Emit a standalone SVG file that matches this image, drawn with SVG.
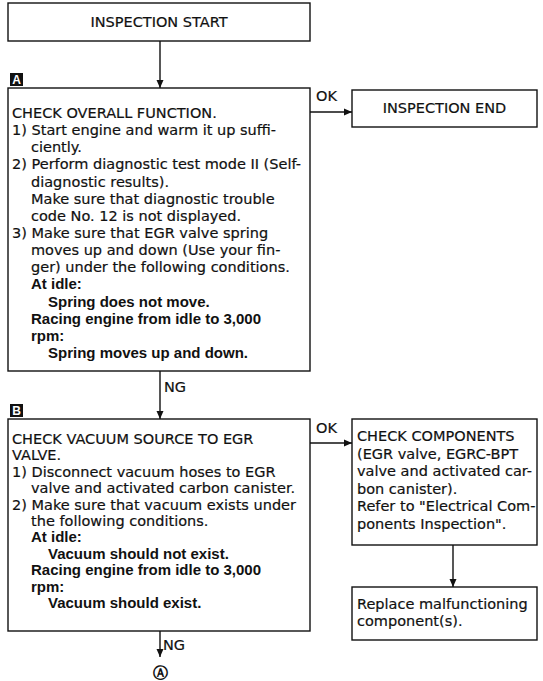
<svg xmlns="http://www.w3.org/2000/svg" width="543" height="681" viewBox="0 0 543 681">
<defs>
<marker id="ah" markerWidth="8" markerHeight="8" refX="8" refY="4" orient="auto" markerUnits="userSpaceOnUse">
<path d="M0,0.5 L8,4 L0,7.5 Z" fill="#111"/>
</marker>
<style>
.box{fill:#fff;stroke:#111;stroke-width:1.4}
.t{font-family:"DejaVu Sans","Liberation Sans",sans-serif;font-size:14.5px;fill:#111;stroke:#111;stroke-width:0.2}
.b{font-family:"Liberation Sans",Arial,sans-serif;font-size:15px;font-weight:bold;fill:#111}
.c{text-anchor:middle}
.ln{stroke:#111;stroke-width:1.4;fill:none}
.tag{fill:#111}
.tagt{font-family:"Liberation Sans",Arial,sans-serif;font-size:12px;font-weight:bold;fill:#fff;text-anchor:middle}
</style>
</defs>
<rect width="543" height="681" fill="#fff"/>
<g id="connectors">
<line class="ln" x1="160" y1="41" x2="160" y2="88" marker-end="url(#ah)"/>
<line class="ln" x1="310" y1="112" x2="352" y2="112" marker-end="url(#ah)"/>
<text class="t" x="316" y="101">OK</text>
<line class="ln" x1="160" y1="371" x2="160" y2="419" marker-end="url(#ah)"/>
<text class="t" x="164" y="392">NG</text>
<line class="ln" x1="310" y1="443" x2="352" y2="443" marker-end="url(#ah)"/>
<text class="t" x="316" y="433">OK</text>
<line class="ln" x1="453" y1="545" x2="453" y2="587" marker-end="url(#ah)"/>
<line class="ln" x1="160" y1="631" x2="160" y2="657" marker-end="url(#ah)"/>
<text class="t" x="163" y="650">NG</text>
</g>
<g id="start">
<rect class="box" x="8" y="3" width="302" height="38"/>
<text class="t c" x="159" y="27">INSPECTION START</text>
</g>
<g id="tagA">
<rect class="tag" x="10" y="73" width="13" height="13"/>
<text class="tagt" x="16.5" y="84">A</text>
</g>
<g id="checkA">
<rect class="box" x="8" y="88" width="302" height="283"/>
<text class="t" x="12" y="118">CHECK OVERALL FUNCTION.</text>
<text class="t" x="12" y="135.1">1) Start engine and warm it up suffi-</text>
<text class="t" x="31" y="152.3">ciently.</text>
<text class="t" x="12" y="169.4">2) Perform diagnostic test mode II (Self-</text>
<text class="t" x="31" y="186.6">diagnostic results).</text>
<text class="t" x="31" y="203.7">Make sure that diagnostic trouble</text>
<text class="t" x="31" y="220.8">code No. 12 is not displayed.</text>
<text class="t" x="12" y="238">3) Make sure that EGR valve spring</text>
<text class="t" x="31" y="255.1">moves up and down (Use your fin-</text>
<text class="t" x="31" y="272.3">ger) under the following conditions.</text>
<text class="b" x="31" y="289.4">At idle:</text>
<text class="b" x="48" y="306.5">Spring does not move.</text>
<text class="b" x="31" y="323.7">Racing engine from idle to 3,000</text>
<text class="b" x="31" y="340.8">rpm:</text>
<text class="b" x="48" y="358">Spring moves up and down.</text>
</g>
<g id="end">
<rect class="box" x="352" y="90" width="185" height="37"/>
<text class="t c" x="444.5" y="113">INSPECTION END</text>
</g>
<g id="tagB">
<rect class="tag" x="10" y="404" width="13" height="13"/>
<text class="tagt" x="16.5" y="415">B</text>
</g>
<g id="checkB">
<rect class="box" x="8" y="419" width="302" height="212"/>
<text class="t" x="12" y="444">CHECK VACUUM SOURCE TO EGR</text>
<text class="t" x="12" y="460.4">VALVE.</text>
<text class="t" x="12" y="476.8">1) Disconnect vacuum hoses to EGR</text>
<text class="t" x="31" y="493.2">valve and activated carbon canister.</text>
<text class="t" x="12" y="509.6">2) Make sure that vacuum exists under</text>
<text class="t" x="31" y="526">the following conditions.</text>
<text class="b" x="31" y="542.4">At idle:</text>
<text class="b" x="48" y="558.8">Vacuum should not exist.</text>
<text class="b" x="31" y="575.2">Racing engine from idle to 3,000</text>
<text class="b" x="31" y="591.6">rpm:</text>
<text class="b" x="48" y="608">Vacuum should exist.</text>
</g>
<g id="components">
<rect class="box" x="352" y="419" width="185" height="126"/>
<text class="t" x="357" y="441">CHECK COMPONENTS</text>
<text class="t" x="357" y="458.5">(EGR valve, EGRC-BPT</text>
<text class="t" x="357" y="476">valve and activated car-</text>
<text class="t" x="357" y="493.5">bon canister).</text>
<text class="t" x="357" y="511">Refer to "Electrical Com-</text>
<text class="t" x="357" y="528.5">ponents Inspection".</text>
</g>
<g id="replace">
<rect class="box" x="352" y="587" width="185" height="53"/>
<text class="t" x="357" y="609">Replace malfunctioning</text>
<text class="t" x="357" y="626">component(s).</text>
</g>
<g id="refA">
<text class="b c" x="160" y="678" style="font-size:15px">Ⓐ</text>
</g>
</svg>
